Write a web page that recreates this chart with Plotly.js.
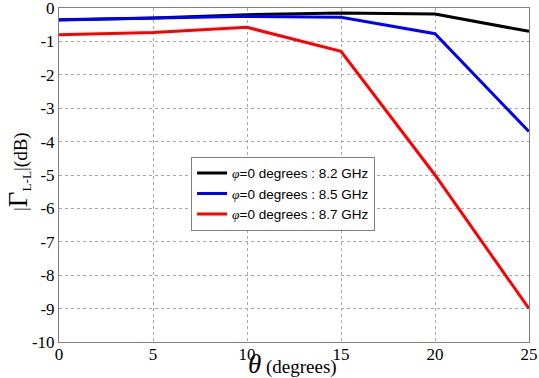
<!DOCTYPE html>
<html>
<head>
<meta charset="utf-8">
<script src="https://cdn.plot.ly/plotly-3.0.1.min.js"></script>
<style>html,body{margin:0;padding:0;background:#fff;}</style>
</head>
<body>
<div id="chart" style="width:539px;height:378px;"></div>
<script>
const theta = [0, 5, 10, 15, 20, 25];
const gamma82 = [-0.35, -0.3, -0.2, -0.15, -0.18, -0.7];
const gamma85 = [-0.36, -0.31, -0.25, -0.28, -0.77, -3.7];
const gamma87 = [-0.8, -0.73, -0.58, -1.3, -5.0, -9.0];
const seriesNames = ['=0 degrees : 8.2 GHz', '=0 degrees : 8.5 GHz', '=0 degrees : 8.7 GHz'];
const xTicks = [0, 5, 10, 15, 20, 25];
const yTicks = [0, -1, -2, -3, -4, -5, -6, -7, -8, -9, -10];

const phi = '<span style="font-family:Liberation Serif;font-style:italic">φ</span>';
const colors = ['#000000', '#0000ff', '#ff0000'];
const ys = [gamma82, gamma85, gamma87];
const traces = ys.map((y, i) => ({
  x: theta, y: y, type: 'scatter', mode: 'lines',
  name: phi + seriesNames[i],
  line: {color: colors[i], width: 3}
}));
const serif = 'Liberation Serif, Times New Roman';
const layout = {
  width: 539, height: 378,
  margin: {l: 59, r: 10, t: 8, b: 36},
  paper_bgcolor: '#fff', plot_bgcolor: '#fff',
  showlegend: true,
  legend: {
    x: 0.281, y: 0.555, xanchor: 'left', yanchor: 'top',
    bordercolor: '#808080', borderwidth: 1, bgcolor: '#fff',
    font: {family: 'Liberation Sans, Arial', size: 13.5, color: '#000'},
    tracegroupgap: 0, itemwidth: 30
  },
  xaxis: {
    range: [0, 25], tickvals: xTicks, ticktext: xTicks.map(String),
    showgrid: true, gridcolor: '#a8a8a8', griddash: 'dot', gridwidth: 1,
    showline: true, linecolor: '#808080', linewidth: 1, mirror: true,
    zeroline: false, ticks: '', ticklen: 0, ticklabelstandoff: -3,
    tickfont: {family: serif, size: 17, color: '#000'}
  },
  yaxis: {
    range: [-10, 0], tickvals: yTicks, ticktext: yTicks.map(String),
    showgrid: true, gridcolor: '#a8a8a8', griddash: 'dot', gridwidth: 1,
    showline: true, linecolor: '#808080', linewidth: 1, mirror: true,
    zeroline: false, ticks: '', ticklen: 0, ticklabeloverflow: 'allow',
    tickfont: {family: serif, size: 17, color: '#000'}
  },
  annotations: [{
    text: '|<span style="font-size:27px">Γ</span><sub>L-L</sub>|(dB)',
    xref: 'paper', yref: 'paper', x: -0.085, y: 0.509,
    xanchor: 'center', yanchor: 'middle', textangle: -90, showarrow: false,
    font: {family: serif, size: 19, color: '#000'}
  }, {
    text: '<i><span style="font-size:27px">θ</span></i> (degrees)',
    xref: 'paper', yref: 'paper', x: 0.496, y: -0.113,
    xanchor: 'center', yanchor: 'bottom', showarrow: false, borderpad: 0,
    font: {family: serif, size: 19, color: '#000'}
  }]
};
Plotly.newPlot('chart', traces, layout, {displayModeBar: false, staticPlot: true});
</script>
</body>
</html>
